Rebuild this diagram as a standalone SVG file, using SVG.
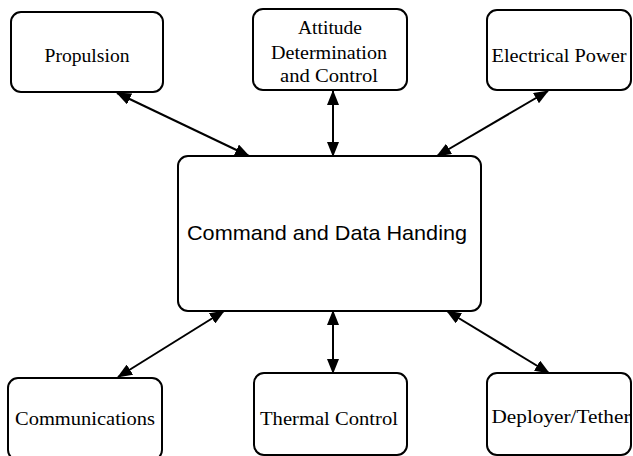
<svg xmlns="http://www.w3.org/2000/svg" width="633" height="456" viewBox="0 0 633 456">
<style>
.box{fill:#fff;stroke:#000;stroke-width:2}
.t{font-family:"Liberation Serif","DejaVu Serif",serif;font-size:18px;fill:#000;text-anchor:middle}
.c{font-family:"Liberation Sans",Arial,sans-serif;font-size:21px;fill:#000}
.edge{stroke:#000;stroke-width:2;fill:none;marker-start:url(#ah);marker-end:url(#ah)}
</style>
<defs>
<marker id="ah" viewBox="0 0 15 12" refX="14" refY="6" markerWidth="15" markerHeight="12" markerUnits="userSpaceOnUse" orient="auto-start-reverse">
<path d="M0,0 L15,6 L0,12 Z" fill="#000"/>
</marker>
</defs>
<rect width="633" height="456" fill="#fff"/>
<g id="connectors">
<line class="edge" x1="117" y1="93" x2="249" y2="156"/>
<line class="edge" x1="333" y1="91" x2="333" y2="156"/>
<line class="edge" x1="548" y1="91" x2="437" y2="156"/>
<line class="edge" x1="224" y1="311" x2="118" y2="377"/>
<line class="edge" x1="333" y1="311" x2="333" y2="373"/>
<line class="edge" x1="447" y1="311" x2="549" y2="373"/>
</g>
<g id="propulsion">
<rect class="box" x="11" y="12" width="152" height="80" rx="10"/>
<text class="t" x="87" y="62" textLength="85" lengthAdjust="spacingAndGlyphs">Propulsion</text>
</g>
<g id="attitude">
<rect class="box" x="253" y="9" width="154" height="81" rx="10"/>
<text class="t" x="330" y="34" textLength="64" lengthAdjust="spacingAndGlyphs">Attitude</text>
<text class="t" x="329" y="59" textLength="116" lengthAdjust="spacingAndGlyphs">Determination</text>
<text class="t" x="329" y="82" textLength="98" lengthAdjust="spacingAndGlyphs">and Control</text>
</g>
<g id="electrical">
<rect class="box" x="487" y="10" width="144" height="80" rx="10"/>
<text class="t" x="559" y="62" textLength="135" lengthAdjust="spacingAndGlyphs">Electrical Power</text>
</g>
<g id="cdh">
<rect class="box" x="178" y="156" width="303" height="155" rx="10"/>
<text class="c" x="187" y="240" textLength="280" lengthAdjust="spacingAndGlyphs">Command and Data Handing</text>
</g>
<g id="communications">
<rect class="box" x="8" y="378" width="154" height="82" rx="10"/>
<text class="t" x="85" y="425" textLength="140" lengthAdjust="spacingAndGlyphs">Communications</text>
</g>
<g id="thermal">
<rect class="box" x="254" y="373" width="153" height="82" rx="10"/>
<text class="t" x="329" y="425" textLength="138" lengthAdjust="spacingAndGlyphs">Thermal Control</text>
</g>
<g id="deployer">
<rect class="box" x="487" y="373" width="144" height="82" rx="10"/>
<text class="t" x="561" y="423" textLength="139" lengthAdjust="spacingAndGlyphs">Deployer/Tether</text>
</g>
</svg>
